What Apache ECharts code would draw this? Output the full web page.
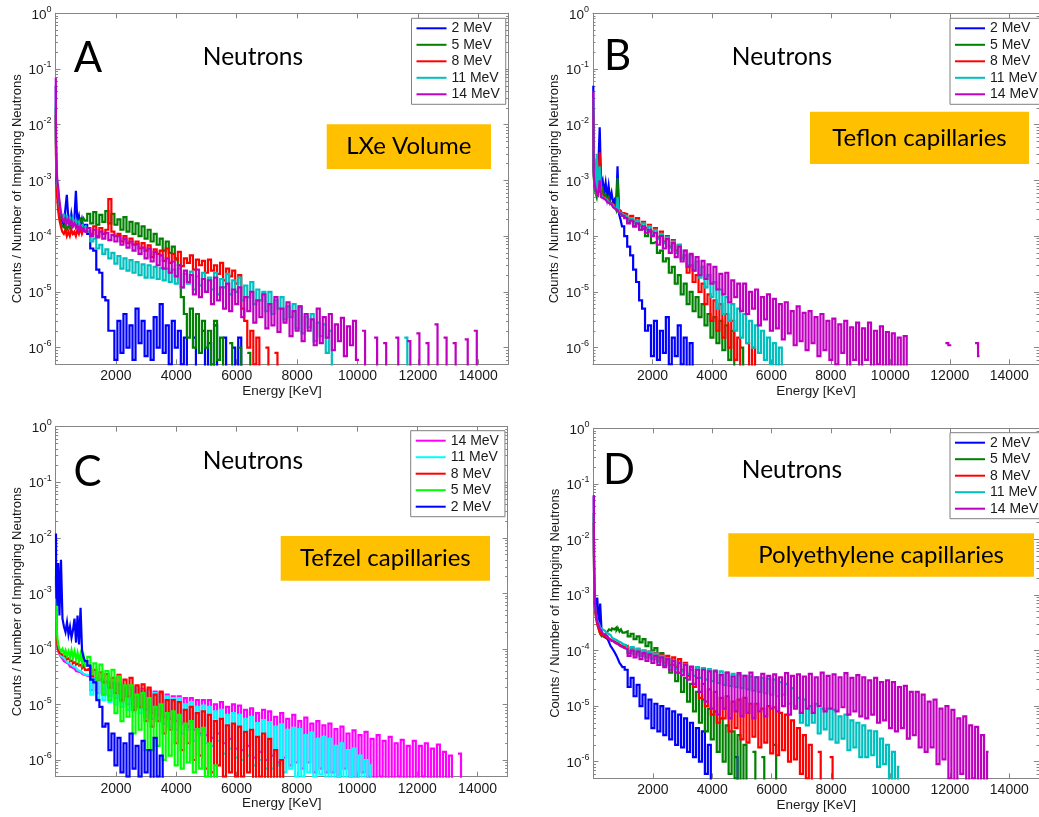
<!DOCTYPE html>
<html><head><meta charset="utf-8">
<script src="https://cdn.jsdelivr.net/npm/echarts@6/dist/echarts.min.js"></script>
<style>html,body{margin:0;padding:0;background:#fff}#chart{width:1039px;height:817px}</style>
</head><body><div id="chart"></div>
<script>
// ---------------- DATA ----------------
// Energy grid (keV) shared by all spectra
const ENERGY_KEV = [10,20,30,50,70,100,150,200,250,300,350,400,450,500,550,600,650,700,750,800,850,900,950,1000,
1100,1200,1300,1400,1500,1600,1700,1800,1900,2000,
2100,2200,2300,2400,2500,2600,2700,2800,2900,3000,
3100,3200,3300,3400,3500,3600,3700,3800,3900,4000,
4100,4200,4300,4400,4500,4600,4700,4800,4900,5000,
5100,5200,5300,5400,5500,5600,5700,5800,5900,6000,
6100,6200,6300,6400,6500,6600,6700,6800,6900,7000,
7100,7200,7300,7400,7500,7600,7700,7800,7900,8000,
8100,8200,8300,8400,8500,8600,8700,8800,8900,9000,
9100,9200,9300,9400,9500,9600,9700,9800,9900,10000,
10100,10200,10300,10400,10500,10600,10700,10800,10900,11000,
11100,11200,11300,11400,11500,11600,11700,11800,11900,12000,
12100,12200,12300,12400,12500,12600,12700,12800,12900,13000,
13100,13200,13300,13400,13500,13600,13700,13800,13900,14000];

// Spectrum values in units of 1e-6 counts per impinging neutron (null = no counts)
const UNIT = 1e-6;

// Panel A - LXe Volume
const A_2MEV = [50000,6000,2000,1000,700,500,300,220,180,160,300,550,200,150,250,170,200,650,180,230,150,200,140,160,
110,60,55,25,22,8,7,2,2,0.6,
3,0.8,4,1,2.5,0.6,5,1.2,3,0.7,
2,0.6,3.5,1,6,0.8,2.5,0.5,3,1,
2,0.5,1.5,0.4,null,1.5,0.3,null,2,0.3,
1.2,0.4,2.5,0.3,null,1.5,0.3,null,1,0.3,
1.5,0.3];
const A_5MEV = [20000,4000,1500,900,600,450,300,170,150,140,160,130,150,140,170,150,180,160,190,170,200,180,210,190,
250,170,270,160,240,180,280,170,250,160,
200,130,220,120,180,110,170,100,150,90,
130,80,110,70,90,55,80,50,65,40,
30,8,4,1.5,5,1,4,0.8,3,1,
2,0.5,3,0.6,1.5,0.4,null,1.2,0.3,null,
1,0.3,null,0.8,0.3];
const A_8MEV = [15000,3000,1200,700,450,300,200,150,120,110,130,100,120,100,130,110,120,100,130,110,140,110,130,120,
140,110,150,100,140,110,130,460,120,100,
110,80,100,75,90,70,80,60,75,55,
68,42,58,48,55,36,60,33,48,38,
52,29,40,33,45,25,38,30,36,22,
38,24,30,21,33,16,26,19,24,14,
20,5,3,1,2,0.5,1.5,0.4,null,1,
0.4,null,0.8,0.3];
const A_11MEV = [25000,5000,2500,1300,900,700,400,260,220,240,200,230,190,220,180,210,170,190,160,180,150,160,140,150,
120,80,90,60,70,48,58,40,50,32,
44,26,40,24,37,22,34,20,31,18,
30,18,28,17,27,16,26,15,25,14,
26,12,21,14,23,11,19,13,22,10,
18,11,22,9,17,12,21,9,16,10,
18,7,13,8,15,6,11,7,10,4.5,
10,4,7,5,8,3.2,5.5,3.5,6,2.2,
5.5,1.8,3.6,2.3,4,1.3,2.8,1.6,2.6,0.8,
2,0.4,null,null,null,null,null,null,null,null,
null,null,null,null,null,null,null,null,null,null,
null,null,null,null,null,1.5,0.3];
const A_14MEV = [70000,10000,3000,1500,1000,800,450,280,200,180,210,170,200,160,190,150,170,140,160,130,150,125,140,120,
140,100,130,95,120,90,115,85,105,80,
100,70,90,62,80,55,72,48,62,40,
60,35,52,30,45,26,40,22,35,19,
30,12,24,15,20,9,25,8,17,10,
16,6,18,7,12,5,14,4.5,11,6,
12,3.5,8,4.5,10,2.8,7,3.5,9,2.2,
6,2.5,8,1.9,5,2.8,6.5,1.6,4.5,2,
5.5,1.3,4,2,3.2,1.1,5,1.2,3.5,1.5,
4,0.9,2.6,1.3,3.4,0.7,2.4,1.1,3,0.6,
null,2,0.4,null,null,1.5,0.3,null,1.2,0.3,
null,null,1.5,0.3,null,null,1.3,0.3,null,1.8,
0.3,null,1.2,0.3,null,2.6,0.3,null,1.5,0.3,
null,1.2,0.3,null,null,1.4,0.3,null,2,0.3];

// Panel B - Teflon capillaries
const B_2MEV = [50000,3000,1500,1000,800,700,2500,1500,9000,800,1000,600,900,500,800,450,600,400,450,300,1800,250,200,150,
100,65,45,25,15,7,5,2,2.5,0.7,
3,0.6,2,0.8,3.5,0.5,1.5,0.7,2.5,0.5,
1.5,0.4,1.2,0.3];
const B_5MEV = [20000,2500,1200,900,700,600,500,800,1500,600,700,500,550,450,500,400,380,350,330,300,1100,270,250,240,
220,180,200,150,170,130,140,100,120,75,
80,50,55,35,40,22,28,14,20,9,
14,6,10,4.5,8,3.5,6,2.5,4,1.5,
3.5,1.2,3,0.9,2.5,0.6,2,0.4,null,1,
0.3];
const B_8MEV = [15000,2000,1500,900,800,700,600,700,3200,600,550,500,480,450,420,400,380,360,340,320,300,290,270,260,
250,200,230,180,210,160,180,140,160,120,
140,95,120,80,100,65,85,55,70,40,
45,22,30,15,20,10,14,6,9,3,
7,2,6,1.5,4,1,3,0.6,1.5,0.4,
null,1.2,0.3,1,0.3];
const B_11MEV = [30000,2500,1400,1000,800,700,3000,650,1800,550,500,480,450,430,400,380,360,340,320,300,500,270,260,240,
230,190,210,170,190,150,170,130,150,110,
130,90,110,75,95,62,80,50,70,40,
55,30,45,24,35,18,28,12,20,8,
15,5,11,4,8,3,6,2,5,1.5,
4,1.2,3,1,2.5,0.8,2,0.6,1.5,0.5,
1.2,0.4,1,0.3];
const B_14MEV = [40000,5000,1500,1000,800,700,600,550,1000,500,480,450,430,410,390,370,350,330,310,290,280,260,250,230,
210,170,190,150,170,130,150,115,130,100,
115,70,100,60,88,50,75,42,65,35,
55,28,48,24,42,20,36,17,31,14,
28,11,21,9,22,6.5,16,8,14,4.5,
14,4,10,5,11,2.5,8,3.2,9,2,
7.5,2.2,6,1.4,6.5,1.8,4.5,1.1,5.5,1.3,
4.2,0.9,4.5,1.2,3.5,0.7,4,0.9,3,0.6,
3.3,0.5,2.6,0.8,3,0.4,2.3,0.6,2.8,0.4,
2.2,0.6,2.8,0.35,2,0.5,2.4,0.35,1.9,0.45,
1.8,0.4,1.5,0.3,1.6,0.3,null,null,null,null,
null,null,null,null,null,null,null,null,1.2,1.1,
null,null,null,null,null,null,null,null,1.2,0.7];

// Panel C - Tefzel capillaries
const C_2MEV = [12000,1500,800,1000,600,3500,400,4000,350,250,200,300,180,250,160,220,350,130,400,120,550,90,70,60,
50,28,25,12,9,4,4.5,1.5,3,0.8,
2.5,0.6,2,0.5,3,0.7,1.8,0.5,2.2,0.6,
1.5,0.4,2.5,0.5,1.2,0.3];
const C_5MEV = [3000,800,400,200,150,120,100,90,100,80,95,75,90,70,95,70,90,65,85,60,80,55,75,50,
72,35,55,28,52,15,40,12,42,7,
32,5,22,6,22,3,15,3.5,16,1.5,
13,1.5,9,1.8,10,1,7,1.2,7.5,0.8,
6.5,0.7,4.5,0.9,5,0.6,3.6,0.7,3.8,0.5,
2,0.4,0.8,0.3];
const C_8MEV = [2000,600,300,150,110,95,85,80,75,70,72,65,68,60,62,55,58,52,55,50,52,45,50,42,
45,32,42,28,38,25,35,20,30,16,
34,12,28,14,30,8,22,9,23,5,
20,4,15,5,17,3,12,3.5,12,2,
11,1.5,8,2,9,1,7,1.2,7.5,0.7,
6.5,0.6,5,0.8,5.5,0.5,4.2,0.6,4.5,0.5,
4,0.5,3.2,0.6,3.5,0.4,2.6,0.5,3,0.4,
2.4,0.4,1.5,0.3,1,0.3];
const C_11MEV = [2000,500,250,140,110,95,85,75,70,65,62,58,55,52,50,48,46,44,42,40,38,36,35,34,
33,15,30,13,28,12,26,11,25,10,
24,9,22,8,21,7.5,20,7,18,6,
17,5.5,16,5,15,4.5,14,4,13,3.5,
13,3,10,3.5,11,2.2,9,2.8,9.5,2,
9,1.8,7.5,2.2,8,1.3,6.5,1.6,7,1.1,
6.5,1,5.5,1.2,6,0.8,4.6,1,5.2,0.7,
4.8,0.7,4,0.8,4.4,0.6,3.5,0.7,3.8,0.5,
3.6,0.5,2.8,0.6,3.1,0.5,2.4,0.55,2.6,0.4,
2.4,0.4,1.8,0.5,2,0.4,1.5,0.5,1.6,0.4,
1.2,0.3,1,0.3,0.8];
const C_14MEV = [1500,400,200,130,100,90,80,72,66,60,57,54,50,48,46,44,42,40,39,38,36,35,34,33,
31,18,29,16,27,15,25,14,24,13,
23,11,22,10,21,9,20,8.5,19,8,
18,7,17,6.5,16,6,15,5.5,14,5,
14,4.5,13,4,13,3.5,12,3,12,2.8,
12,2.5,10,3,11,2,9,2.4,10,1.6,
9.5,1.5,8,1.8,8.5,1.1,7,1.4,8,1,
7.5,1.2,6,0.9,7,1.1,5.5,0.8,6.5,0.9,
5,0.7,5.8,0.9,4.5,0.6,5,0.7,4.2,0.6,
4.5,0.6,3.6,0.5,4,0.7,3,0.5,3.4,0.5,
2.8,0.6,3.2,0.5,2.4,0.4,2.8,0.5,2.2,0.4,
2.6,0.4,2,0.5,2.3,0.4,1.8,0.45,2.2,0.4,
1.8,0.5,2,0.4,1.6,0.3,1.9,0.4,1.4,0.3,
1.2,0.3,null,1.3,0.4];

// Panel D - Polyethylene capillaries
const D_2MEV = [60000,9000,2000,800,600,500,900,300,700,200,180,170,160,150,140,120,110,100,90,80,70,60,55,50,
45,22,32,15,24,10,16,6,13,4,
11,3.5,10,3,9,2.5,8,2,7,1.8,
6,1.5,5,1.2,4,1,3.5,0.6,2,0.4,
null,null,null,null,null,null,null,1.2,0.4];
const D_5MEV = [30000,5000,1500,700,500,400,300,250,200,180,190,200,210,220,240,230,250,240,260,230,250,220,240,210,
220,180,200,160,180,140,160,120,140,100,
110,75,90,55,70,40,55,28,40,18,
32,12,25,8,18,5,13,3.5,9,2.5,
8,1.5,6,1,4.5,0.6,3.5,0.5,3,0.4,
2,0.4,null,1.5,0.3,null,1.2,0.3,null,null,
2,0.3];
const D_8MEV = [20000,4000,1200,700,500,400,300,240,200,190,180,175,170,165,160,155,150,145,140,135,130,125,120,115,
120,90,110,85,105,80,100,75,95,70,
90,65,85,60,80,55,75,50,70,45,
60,35,45,22,32,14,25,10,20,7,
18,5,14,6,15,3.5,12,4,13,2.5,
14,2.2,11,2.8,11,1.8,9,2.2,10,1.4,
9.5,1.3,7.5,1.6,7,1,5.5,1.1,4,0.6,
3,0.5,2,0.4,null,1.5,0.3,null,null,1.2,
0.3];
const D_11MEV = [25000,4000,1500,800,600,450,350,300,260,240,230,220,210,200,190,180,170,160,155,150,145,140,135,130,
125,95,115,88,108,80,100,75,95,70,
88,62,80,56,72,50,66,46,60,42,
56,38,52,35,50,32,48,30,46,28,
44,26,42,24,40,23,38,22,36,21,
35,20,34,19,33,18,32,17,31,16,
30,15,27,16,25,11,21,10,14,5,
13,4.5,10,5,11,3.2,9,3.8,9,2.5,
8.5,2.2,6.5,2.6,7,1.6,5.5,1.8,5,1.2,
4.5,1.2,3.6,1.3,3.5,0.8,2.6,0.9,2,0.4,
1.5,0.3,0.8];
const D_14MEV = [63000,8000,2000,900,600,450,330,280,240,220,200,190,180,170,160,150,145,140,135,130,125,120,115,110,
105,80,100,75,95,70,90,65,85,60,
80,55,75,50,70,45,65,40,60,36,
55,30,50,25,45,18,45,12,42,9,
42,7,36,9,40,6,34,8,39,6.5,
35,7.5,40,6,33,8,38,6.5,35,9,
37,8,33,10,39,7,35,9,37,7.5,
34,9,38,7.5,33,10,40,8,35,9,
37,8,33,9.5,39,7,32,8,36,6.5,
33,6,29,7,32,5,27,5.5,29,4,
27,3.5,22,4,23,2.6,18,3,18,1.8,
16,1.5,12,1.8,13,0.9,9,1.1,10,0.5,
8.5,0.4,6,0.6,6.5,0.3,4.5,0.5,4.2,0.3,
3,0.3,1.5];

const LABELS_ABD = ['2 MeV','5 MeV','8 MeV','11 MeV','14 MeV'];
const LABELS_C = ['14 MeV','11 MeV','8 MeV','5 MeV','2 MeV'];
const X_TICKS = [2000,4000,6000,8000,10000,12000,14000];
const Y_TICKS = [1e-6,1e-5,1e-4,1e-3,1e-2,1e-1,1];
const PANEL_LETTERS = ['A','B','C','D'];
const PANEL_TITLE = 'Neutrons';
const MATERIALS = ['LXe Volume','Teflon capillaries','Tefzel capillaries','Polyethylene capillaries'];
const X_NAME = 'Energy [KeV]';
const Y_NAME = 'Counts / Number of Impinging Neutrons';

const PANEL_SERIES = [
  [A_2MEV,A_5MEV,A_8MEV,A_11MEV,A_14MEV],
  [B_2MEV,B_5MEV,B_8MEV,B_11MEV,B_14MEV],
  [C_14MEV,C_11MEV,C_8MEV,C_5MEV,C_2MEV],
  [D_2MEV,D_5MEV,D_8MEV,D_11MEV,D_14MEV]
];
const PANEL_LABELS = [LABELS_ABD, LABELS_ABD, LABELS_C, LABELS_ABD];

// ---------------- STYLE / LAYOUT ----------------
const COLORS_ABD = ['#0000ff','#008000','#ff0000','#00bfbf','#bf00bf'];
const COLORS_C = ['#ff00ff','#00ffff','#ff0000','#00ff00','#0000ff'];
const PANEL_COLORS = [COLORS_ABD, COLORS_ABD, COLORS_C, COLORS_ABD];

const LAYOUT = [
  {grid:{left:55.5,top:13.3,width:453,height:351}, legend:[411.5,18.3], letter:[88,58], title:[253,57.5], box:[326.7,124.3,164.3,44.7]},
  {grid:{left:593,top:13.3,width:454,height:351}, legend:[950,18.3], letter:[617.5,56], title:[782,57.5], box:[810,111.7,219,52.3]},
  {grid:{left:55.7,top:426.7,width:452,height:350}, legend:[410.7,430.7], letter:[87.5,472], title:[253,461.5], box:[280.7,536,209.3,44.7]},
  {grid:{left:593.5,top:428.3,width:454,height:350}, legend:[950,432.7], letter:[619,470], title:[792,470], box:[728.3,533.3,305.7,43.4]}
];

const AXIS_COLOR = '#858585';
const TEXT_COLOR = '#1a1a1a';
const SANS = '"Liberation Sans", Arial, sans-serif';
const MINOR = [];
for (let n = -7; n <= -1; n++) for (let k = 2; k <= 9; k++) { const v = k * Math.pow(10, n); if (v > 5e-7 && v < 1) MINOR.push(v); }

const option = {animation:false, grid:[], xAxis:[], yAxis:[], legend:[], series:[], graphic:[]};

LAYOUT.forEach((L, p) => {
  option.grid.push(Object.assign({containLabel:false}, L.grid));
  const axLine = {show:true, lineStyle:{color:AXIS_COLOR, width:1}};
  option.xAxis.push({
    gridIndex:p, type:'value', min:0, max:15000, position:'bottom',
    axisLine:axLine, splitLine:{show:false},
    axisTick:{show:true, inside:true, length:5, customValues:X_TICKS, lineStyle:{color:AXIS_COLOR}},
    axisLabel:{show:true, customValues:X_TICKS, fontSize:14, color:TEXT_COLOR, fontFamily:SANS, margin:5,
      formatter:(v) => String(Math.round(v))},
    name:X_NAME, nameLocation:'middle', nameGap:19,
    nameTextStyle:{fontSize:13.5, color:TEXT_COLOR, fontFamily:SANS}
  }, {
    gridIndex:p, type:'value', min:0, max:15000, position:'top',
    axisLine:axLine, splitLine:{show:false},
    axisTick:{show:true, inside:true, length:5, customValues:X_TICKS, lineStyle:{color:AXIS_COLOR}},
    axisLabel:{show:false}
  });
  const yBase = {gridIndex:p, type:'log', logBase:10, min:5e-7, max:1, splitLine:{show:false}};
  option.yAxis.push(Object.assign({}, yBase, {
    position:'left', axisLine:axLine,
    axisTick:{show:true, inside:true, length:5, customValues:Y_TICKS, lineStyle:{color:AXIS_COLOR}},
    axisLabel:{show:true, customValues:Y_TICKS, margin:4, color:TEXT_COLOR,
      formatter:(v) => '{b|10}{e|' + Math.round(Math.log10(v)) + '}',
      rich:{b:{fontSize:13.5, fontFamily:SANS, color:TEXT_COLOR, lineHeight:17, verticalAlign:'bottom'},
            e:{fontSize:9, fontFamily:SANS, color:TEXT_COLOR, lineHeight:17, verticalAlign:'top'}}},
    name:Y_NAME, nameLocation:'middle', nameGap:32, nameRotate:90,
    nameTextStyle:{fontSize:13, color:TEXT_COLOR, fontFamily:SANS}
  }), Object.assign({}, yBase, {
    position:'left', axisLine:{show:false},
    axisTick:{show:true, inside:true, length:2.5, customValues:MINOR, lineStyle:{color:AXIS_COLOR}},
    axisLabel:{show:false}
  }), Object.assign({}, yBase, {
    position:'right', axisLine:axLine,
    axisTick:{show:true, inside:true, length:5, customValues:Y_TICKS, lineStyle:{color:AXIS_COLOR}},
    axisLabel:{show:false}
  }), Object.assign({}, yBase, {
    position:'right', axisLine:{show:false},
    axisTick:{show:true, inside:true, length:2.5, customValues:MINOR, lineStyle:{color:AXIS_COLOR}},
    axisLabel:{show:false}
  }));

  const names = [];
  PANEL_SERIES[p].forEach((arr, s) => {
    const name = PANEL_LETTERS[p] + '|' + PANEL_LABELS[p][s];
    names.push(name);
    const color = PANEL_COLORS[p][s];
    const data = arr.map((v, i) => [ENERGY_KEV[i], v == null ? null : v * UNIT]);
    option.series.push({
      type:'line', name, xAxisIndex:p*2, yAxisIndex:p*4, data, step:'middle',
      showSymbol:false, symbol:'none', connectNulls:false, clip:true,
      lineStyle:{color, width:2.2, join:'miter', cap:'butt'}, itemStyle:{color}, emphasis:{disabled:true}
    });
  });
  option.legend.push({
    data:names, left:L.legend[0], top:L.legend[1], orient:'vertical',
    formatter:(n) => n.split('|')[1], icon:'rect', itemWidth:30, itemHeight:2, itemGap:2.5,
    textStyle:{fontSize:14, color:TEXT_COLOR, fontFamily:SANS},
    padding:[3,6,3,5], borderColor:'#808080', borderWidth:1, backgroundColor:'#fff',
    selectedMode:false
  });

  option.graphic.push(
    {type:'text', x:L.letter[0], y:L.letter[1], z:100,
      style:{text:PANEL_LETTERS[p], font:'42px Lato', fill:'#000', textAlign:'center', textVerticalAlign:'middle'}},
    {type:'text', x:L.title[0], y:L.title[1], z:100,
      style:{text:PANEL_TITLE, font:'24.5px Lato', fill:'#000', textAlign:'center', textVerticalAlign:'middle'}},
    {type:'rect', shape:{x:L.box[0], y:L.box[1], width:L.box[2], height:L.box[3]}, z:100,
      style:{fill:'#ffc000'}},
    {type:'text', x:L.box[0] + L.box[2]/2, y:L.box[1] + L.box[3]/2, z:101,
      style:{text:MATERIALS[p], font:'24px Lato', fill:'#000', textAlign:'center', textVerticalAlign:'middle'}}
  );
});

const chart = echarts.init(document.getElementById('chart'), null, {renderer:'canvas'});
chart.setOption(option);
</script></body></html>
